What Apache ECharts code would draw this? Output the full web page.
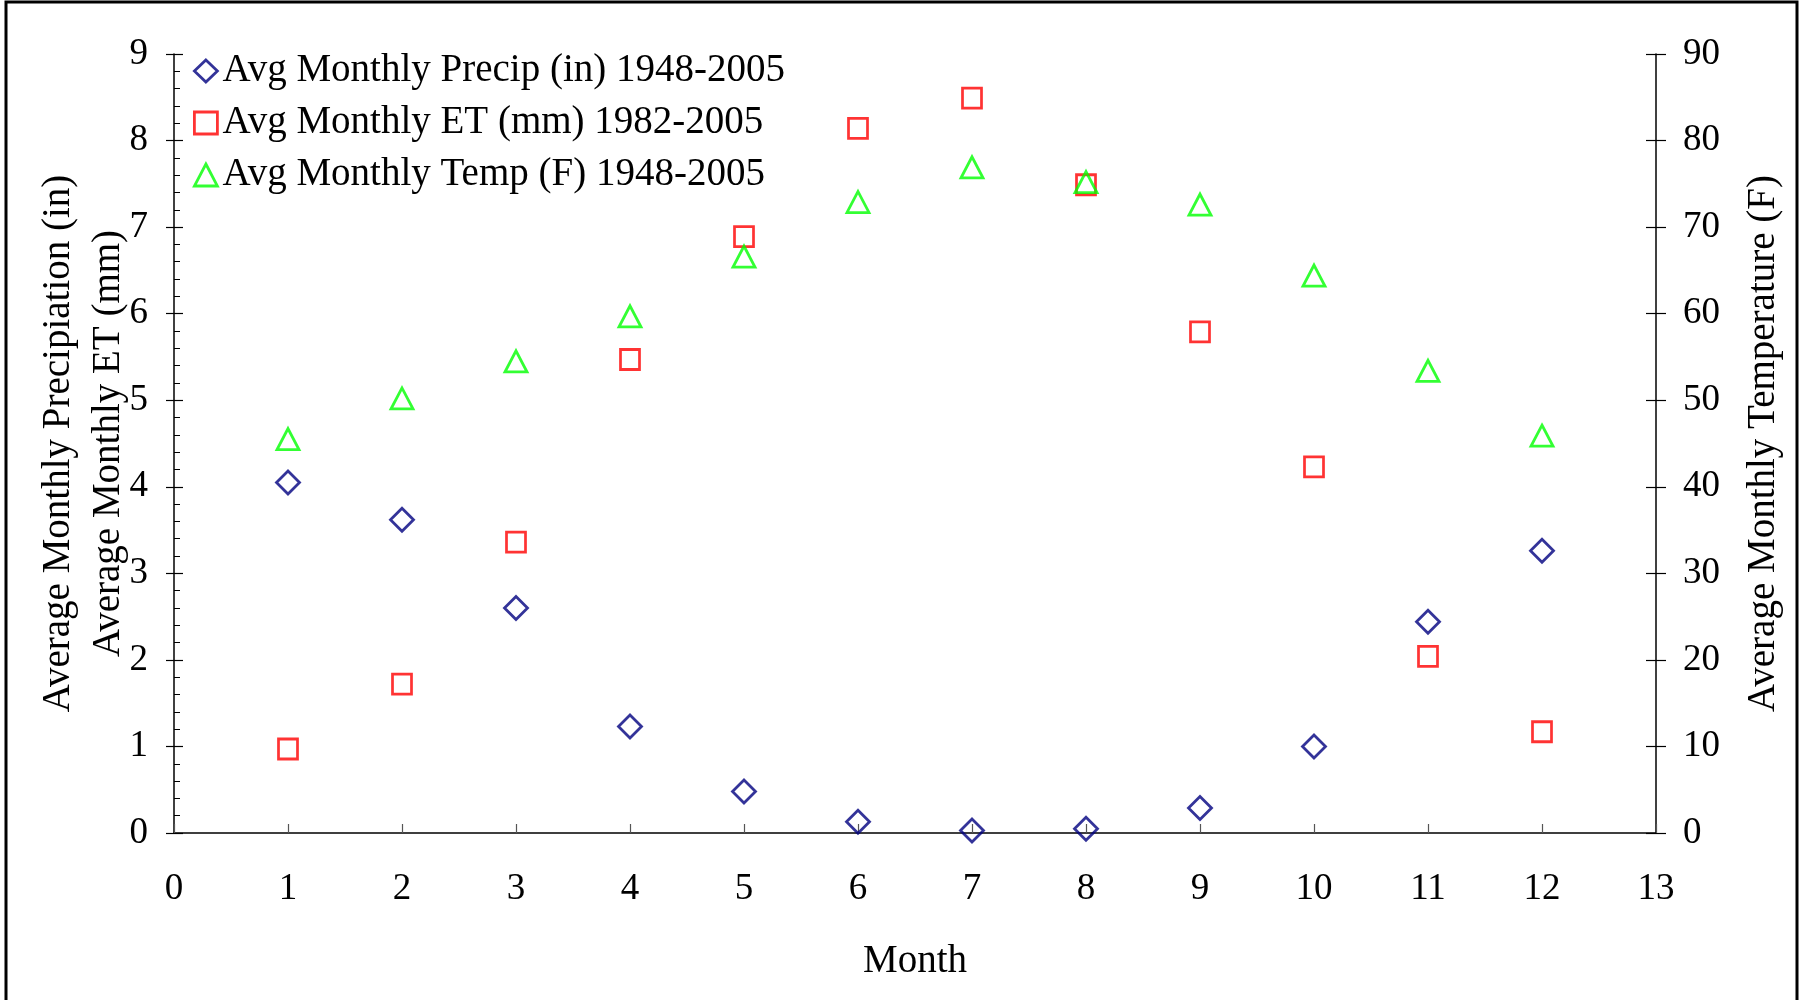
<!DOCTYPE html>
<html>
<head>
<meta charset="utf-8">
<script src="https://cdn.jsdelivr.net/npm/echarts@6/dist/echarts.min.js"></script>
<style>html,body{margin:0;padding:0;background:#fff;}#c{width:1811px;height:1000px;}</style>
</head>
<body>
<div id="c"></div>
<script>
const months = [1,2,3,4,5,6,7,8,9,10,11,12];
const precip = [4.05,3.62,2.60,1.23,0.48,0.13,0.03,0.05,0.29,1.00,2.44,3.26];
const et = [0.97,1.72,3.36,5.47,6.89,8.14,8.49,7.49,5.79,4.23,2.04,1.17];
const temp = [45.5,50.2,54.5,59.7,66.6,72.9,76.9,75.2,72.6,64.4,53.4,45.9];
const seriesNames = ['Avg Monthly Precip (in) 1948-2005','Avg Monthly ET (mm) 1982-2005','Avg Monthly Temp (F) 1948-2005'];

const FONT = '"Liberation Serif", "Times New Roman", serif';
const chart = echarts.init(document.getElementById('c'));
const pair = (xs, ys) => xs.map((x, i) => [x, ys[i]]);
const hollow = c => ({color: 'rgba(255,255,255,0)', borderColor: c, borderWidth: 2.8});

chart.setOption({
  animation: false,
  backgroundColor: '#fff',
  textStyle: {fontFamily: FONT, color: '#000'},
  grid: {left: 174, right: 155, top: 54, bottom: 167},
  legend: {
    orient: 'vertical', left: 193, top: 51, padding: 0,
    itemWidth: 23, itemHeight: 22, itemGap: 12, itemTextGap: 20,
    textStyle: {fontFamily: FONT, fontSize: 39, lineHeight: 40, color: '#000'},
    data: [
      {name: seriesNames[0], icon: 'diamond', itemStyle: hollow('#000080')},
      {name: seriesNames[1], icon: 'rect', itemStyle: hollow('#FF0000')},
      {name: seriesNames[2], icon: 'triangle', itemStyle: hollow('#00FF00')}
    ]
  },
  xAxis: {
    type: 'value', min: 0, max: 13, interval: 1,
    name: 'Month', nameLocation: 'middle', nameGap: 109,
    nameTextStyle: {fontFamily: FONT, fontSize: 39, color: '#000'},
    axisLine: {show: true, onZero: false, lineStyle: {color: '#000', width: 1.5}},
    axisTick: {show: true, inside: true, length: 9, lineStyle: {color: '#555', width: 1.2}},
    axisLabel: {margin: 38, fontFamily: FONT, fontSize: 37, color: '#000'},
    splitLine: {show: false}
  },
  yAxis: [
    {
      type: 'value', min: 0, max: 9, interval: 1, position: 'left',
      name: 'Average Monthly Precipiation (in)\nAverage Monthly ET (mm)',
      nameLocation: 'middle', nameGap: 40, nameRotate: 90, nameMoveOverlap: false,
      nameTextStyle: {fontFamily: FONT, fontSize: 39, lineHeight: 50, color: '#000', align: 'center'},
      axisLine: {show: true, lineStyle: {color: '#000', width: 1.5}},
      axisTick: {show: true, inside: true, length: 9, lineStyle: {color: '#000', width: 1.2}},
      minorTick: {show: true, splitNumber: 5, length: 6, lineStyle: {color: '#000', width: 1}},
      axisLabel: {margin: 26, fontFamily: FONT, fontSize: 37, color: '#000'},
      splitLine: {show: false}
    },
    {
      type: 'value', min: 0, max: 90, interval: 10, position: 'right',
      name: 'Average Monthly Temperature (F)',
      nameLocation: 'middle', nameGap: 88, nameRotate: 90, nameMoveOverlap: false,
      nameTextStyle: {fontFamily: FONT, fontSize: 39, color: '#000', align: 'center'},
      axisLine: {show: true, lineStyle: {color: '#000', width: 1.5}},
      axisTick: {show: true, inside: false, length: 10, lineStyle: {color: '#000', width: 1.2}},
      axisLabel: {margin: 27, fontFamily: FONT, fontSize: 37, color: '#000'},
      splitLine: {show: false}
    },
    {
      type: 'value', min: 0, max: 9, interval: 1, position: 'left',
      axisLine: {show: false},
      axisTick: {show: true, inside: false, length: 8, lineStyle: {color: '#000', width: 1.2}},
      axisLabel: {show: false}, splitLine: {show: false}
    },
    {
      type: 'value', min: 0, max: 90, interval: 10, position: 'right',
      axisLine: {show: false},
      axisTick: {show: true, inside: true, length: 10, lineStyle: {color: '#000', width: 1.2}},
      axisLabel: {show: false}, splitLine: {show: false}
    }
  ],
  series: [
    {
      name: seriesNames[0], type: 'scatter', yAxisIndex: 0,
      symbol: 'diamond', symbolSize: [23, 23],
      itemStyle: hollow('#000080'),
      data: pair(months, precip)
    },
    {
      name: seriesNames[1], type: 'scatter', yAxisIndex: 0,
      symbol: 'rect', symbolSize: [19, 20],
      itemStyle: hollow('#FF0000'),
      data: pair(months, et)
    },
    {
      name: seriesNames[2], type: 'scatter', yAxisIndex: 1,
      symbol: 'triangle', symbolSize: [22, 21],
      itemStyle: hollow('#00FF00'),
      data: pair(months, temp)
    }
  ],
  graphic: [
    {type: 'rect', shape: {x: 6, y: 2, width: 1791, height: 1010}, style: {fill: 'none', stroke: '#000', lineWidth: 3}, silent: true}
  ]
});
</script>
</body>
</html>
